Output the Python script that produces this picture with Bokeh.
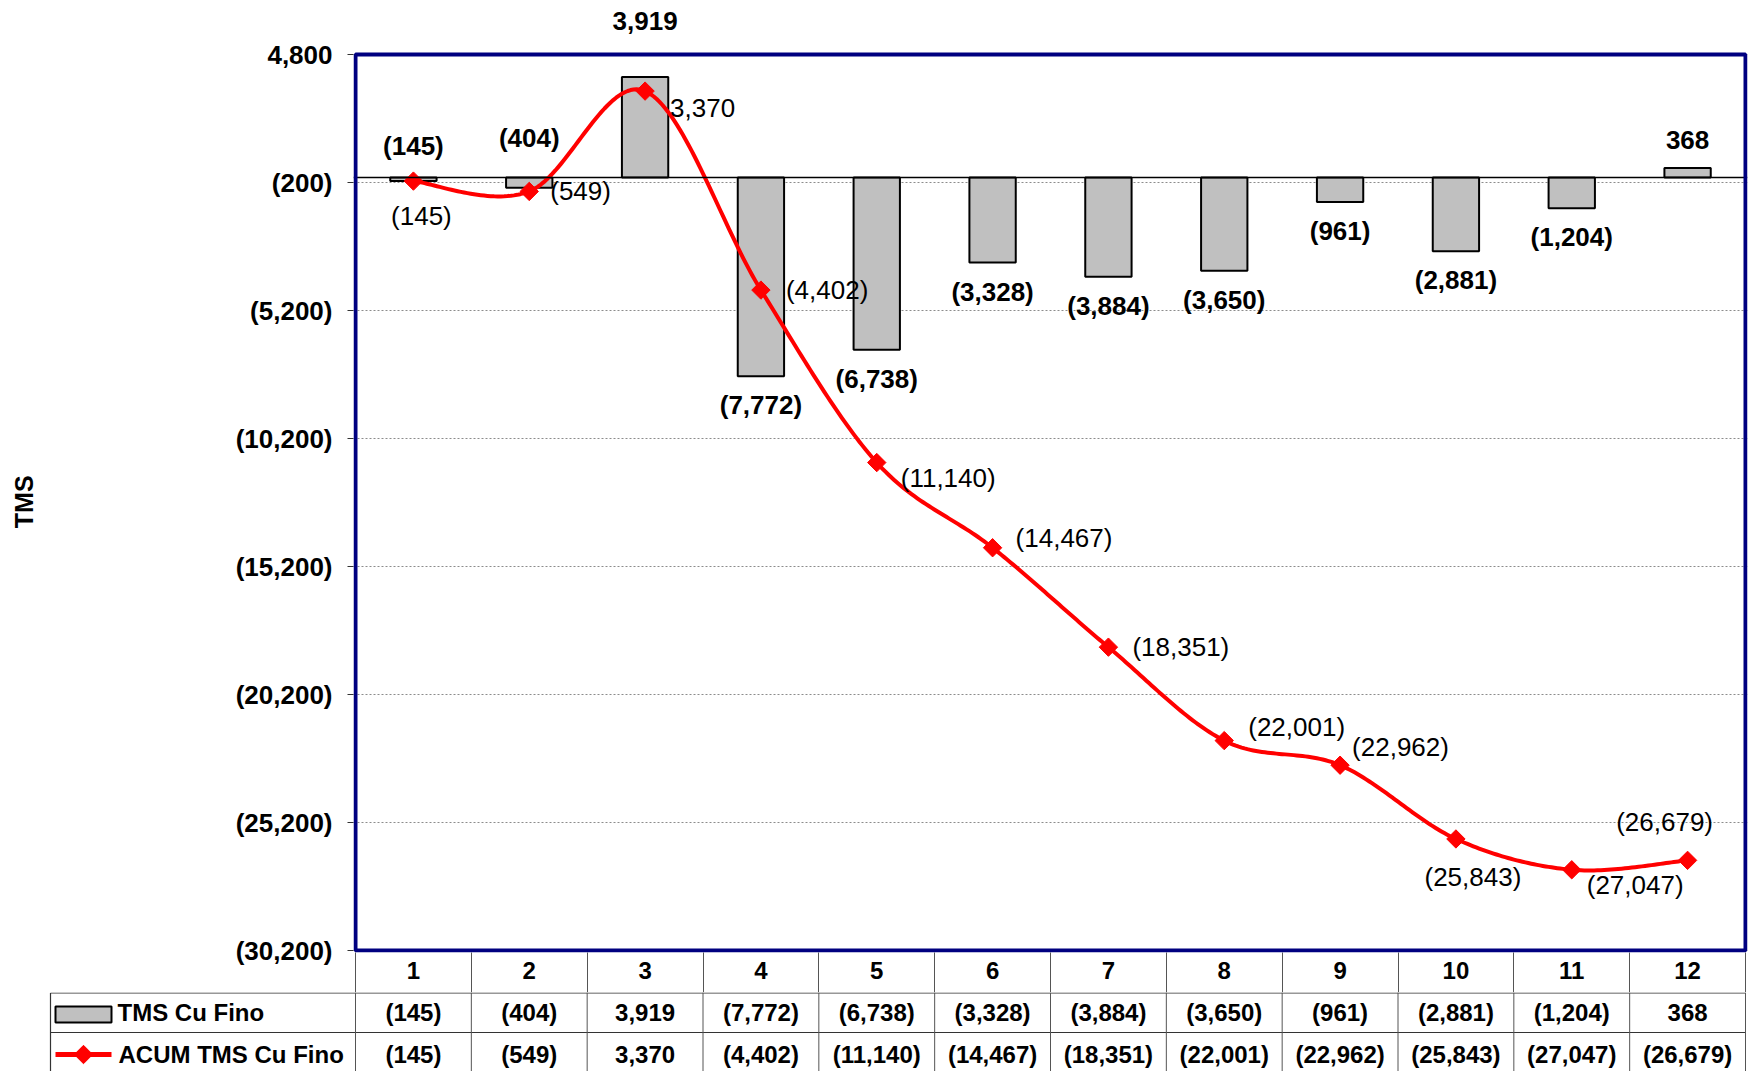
import numpy as np
from bokeh.plotting import figure
from bokeh.models import Range1d, FixedTicker, LabelSet, ColumnDataSource, Span, BoxAnnotation
from bokeh.core.properties import value
from bokeh.embed import file_html
from bokeh.resources import INLINE

# ---------------- data ----------------
months = list(range(1, 13))
month_labels = [str(m) for m in months]
tms_cu_fino = [-145, -404, 3919, -7772, -6738, -3328, -3884, -3650, -961, -2881, -1204, 368]
acum_tms_cu_fino = [-145, -549, 3370, -4402, -11140, -14467, -18351, -22001, -22962, -25843, -27047, -26679]
y_ticks = [4800, -200, -5200, -10200, -15200, -20200, -25200, -30200]
series_names = ["TMS Cu Fino", "ACUM TMS Cu Fino"]
y_title = "TMS"


def fmt(v):
    return f"({abs(v):,})" if v < 0 else f"{v:,}"


FONT = "Liberation Sans"
RED = "#FF0000"
NAVY = "#000080"

# ---------------- layout constants (page pixels) ----------------
PLOT_L, PLOT_R, PLOT_T, PLOT_B = 355, 1745, 54, 950   # plot-area box
Y0, Y1 = -30200, 4800
PXU = (PLOT_R - PLOT_L) / 12.0          # px per category
PYU = (PLOT_B - PLOT_T) / (Y1 - Y0)     # px per TMS unit
FR_L, FR_R, FR_T, FR_B = 353, 1747, 2, 952            # drawing frame (slightly larger)
TABLE_B = 1071
HEADER_H = 992 - FR_B

# label placement styles (pixel offsets, y positive = up)
bar_label_dy = [35, 50, 56, -29, -29, -29, -29, -29, -29, -29, -29, 28]
line_label_place = [  # (align, dx, dy)
    ("center", 8, -35), ("left", 21, 0), ("left", 25, -17), ("left", 25, 0),
    ("left", 24, -15), ("left", 23, 10), ("left", 24, 0), ("left", 24, 14),
    ("left", 12, 18), ("center", 17, -38), ("left", 15, -15), ("center", -23, 38),
]

# ---------------- main chart ----------------
x_rng = Range1d(0.5 - (PLOT_L - FR_L) / PXU, 12.5 + (FR_R - PLOT_R) / PXU)
y_rng = Range1d(Y0 - (FR_B - PLOT_B) / PYU, Y1 + (PLOT_T - FR_T) / PYU)
p = figure(frame_width=FR_R - FR_L, frame_height=FR_B - FR_T,
           min_border_left=FR_L, min_border_right=4, min_border_top=FR_T,
           min_border_bottom=HEADER_H,
           x_range=x_rng, y_range=y_rng,
           output_backend="svg", toolbar_location=None,
           outline_line_color=None,
           background_fill_color="white", border_fill_color="white")

# x axis = header row of the data table
p.xaxis.ticker = FixedTicker(ticks=months, minor_ticks=[m + 0.5 for m in range(0, 13)])
p.xaxis.major_label_overrides = {m: s for m, s in zip(months, month_labels)}
p.xaxis.major_tick_out = 0
p.xaxis.major_tick_in = 0
p.xaxis.minor_tick_in = 0
p.xaxis.minor_tick_out = HEADER_H
p.xaxis.minor_tick_line_color = "#555555"
p.xaxis.minor_tick_line_width = 1
p.xaxis.axis_line_color = None
p.xaxis.major_label_standoff = -(HEADER_H - 9)
p.xaxis.major_label_text_font = FONT
p.xaxis.major_label_text_font_size = "24px"
p.xaxis.major_label_text_font_style = "bold"
p.xaxis.major_label_text_color = "black"

# y axis
p.yaxis.ticker = FixedTicker(ticks=y_ticks)
p.yaxis.bounds = (Y0, Y1)
p.yaxis.major_label_overrides = {t: fmt(t) for t in y_ticks}
p.yaxis.axis_line_color = None
p.yaxis.major_tick_out = 6
p.yaxis.major_tick_in = 0
p.yaxis.major_tick_line_color = "#333333"
p.yaxis.minor_tick_line_color = None
p.yaxis.major_label_standoff = 15
p.yaxis.major_label_text_font = FONT
p.yaxis.major_label_text_font_size = "26px"
p.yaxis.major_label_text_font_style = "bold"
p.yaxis.major_label_text_color = "black"
# trailing no-break spaces centre the rotated title on the plot box rather than the frame
p.yaxis.axis_label = y_title + "\u00a0" * 7
p.yaxis.axis_label_text_font = FONT
p.yaxis.axis_label_text_font_size = "25px"
p.yaxis.axis_label_text_font_style = "bold"
p.yaxis.axis_label_text_color = "black"
p.yaxis.axis_label_standoff = 195

p.xgrid.visible = False
p.ygrid.ticker = FixedTicker(ticks=y_ticks)
p.ygrid.grid_line_color = "#8c8c8c"
p.ygrid.grid_line_dash = "2 2"
p.ygrid.grid_line_width = 1

# bars
p.vbar(x=months, top=tms_cu_fino, bottom=0, width=0.4,
       fill_color="#C0C0C0", line_color="black", line_width=2)
p.add_layout(Span(location=0, dimension="width", line_color="black", line_width=1.5))

# smoothed cumulative line (Excel-like cubic Bezier smoothing in screen space)
pts = np.array([[m * PXU, v * PYU] for m, v in zip(months, acum_tms_cu_fino)])
cx, cy = [], []
n = len(pts)
for i in range(n - 1):
    p0 = pts[i - 1] if i > 0 else pts[i]
    p1, p2 = pts[i], pts[i + 1]
    p3 = pts[i + 2] if i + 2 < n else pts[i + 1]
    c1 = p1 + (p2 - p0) / 6.0
    c2 = p2 - (p3 - p1) / 6.0
    for tt in np.linspace(0, 1, 40, endpoint=(i == n - 2)):
        b = ((1 - tt) ** 3) * p1 + 3 * ((1 - tt) ** 2) * tt * c1 + 3 * (1 - tt) * tt * tt * c2 + tt ** 3 * p2
        cx.append(b[0] / PXU)
        cy.append(b[1] / PYU)
p.line(cx, cy, line_color=RED, line_width=4, line_join="round")
p.scatter(months, acum_tms_cu_fino, marker="square", angle=np.pi / 4, size=13,
          fill_color=RED, line_color=RED)

# plot-area border
p.add_layout(BoxAnnotation(left=0.5, right=12.5, bottom=Y0, top=Y1,
                           fill_alpha=0, fill_color=None,
                           line_color=NAVY, line_width=4, line_alpha=1.0))

# bar data labels
bar_src = ColumnDataSource(dict(x=months, y=tms_cu_fino, text=[fmt(v) for v in tms_cu_fino],
                                dy=bar_label_dy))
p.add_layout(LabelSet(x="x", y="y", text="text", source=bar_src, y_offset="dy",
                      text_align="center", text_baseline="middle",
                      text_font=value(FONT), text_font_size="26px", text_font_style="bold",
                      text_color="black"))

# line data labels
for align in ("left", "center"):
    idx = [i for i, pl in enumerate(line_label_place) if pl[0] == align]
    src = ColumnDataSource(dict(
        x=[months[i] for i in idx],
        y=[acum_tms_cu_fino[i] for i in idx],
        text=[fmt(acum_tms_cu_fino[i]) for i in idx],
        dx=[line_label_place[i][1] for i in idx],
        dy=[line_label_place[i][2] for i in idx]))
    p.add_layout(LabelSet(x="x", y="y", text="text", source=src, x_offset="dx", y_offset="dy",
                          text_align=align, text_baseline="middle",
                          text_font=value(FONT), text_font_size="26px", text_font_style="normal",
                          text_color="black"))

# ---------------- data table ----------------
T_TOP = FR_B + HEADER_H
T_H = TABLE_B - T_TOP
TB_L, TB_R = 48, 1747


def tx(px):
    return 0.5 + (px - PLOT_L) / PXU


def ty(py):
    return T_H - (py - T_TOP)


t = figure(frame_width=TB_R - TB_L, frame_height=T_H, min_border_left=TB_L, min_border_right=4,
           min_border_top=0, min_border_bottom=0,
           x_range=Range1d(tx(TB_L), tx(TB_R)), y_range=Range1d(0, T_H),
           x_axis_location=None, y_axis_location=None,
           output_backend="svg", toolbar_location=None, outline_line_color=None,
           background_fill_color="white", border_fill_color="white")
t.grid.visible = False

LC = "#333333"
t.segment(x0=[tx(50), tx(50)], y0=[T_H - 0.5, ty(1032)], x1=[12.5, 12.5], y1=[T_H - 0.5, ty(1032)],
          line_color=LC, line_width=1.2)
bounds = [m + 0.5 for m in range(0, 13)]
t.segment(x0=bounds, y0=[0] * len(bounds), x1=bounds, y1=[T_H] * len(bounds),
          line_color="#555555", line_width=1)
t.segment(x0=[tx(50)], y0=[0], x1=[tx(50)], y1=[T_H - 0.5], line_color=LC, line_width=1.2)

row_y = [ty(1012), ty(1054)]
t.text(x=months, y=[row_y[0]] * 12, text=[fmt(v) for v in tms_cu_fino],
       text_align="center", text_baseline="middle", text_font=value(FONT),
       text_font_size="24px", text_font_style="bold", text_color="black")
t.text(x=months, y=[row_y[1]] * 12, text=[fmt(v) for v in acum_tms_cu_fino],
       text_align="center", text_baseline="middle", text_font=value(FONT),
       text_font_size="24px", text_font_style="bold", text_color="black")

# legend keys
t.rect(x=[tx(83)], y=[ty(1014)], width=56 / PXU, height=16,
       fill_color="#C0C0C0", line_color="black", line_width=2)
t.segment(x0=[tx(55)], y0=[ty(1054)], x1=[tx(111)], y1=[ty(1054)],
          line_color=RED, line_width=5)
t.scatter([tx(83)], [ty(1054)], marker="square", angle=np.pi / 4, size=13,
          fill_color=RED, line_color=RED)
t.text(x=[tx(117), tx(118)], y=row_y, text=series_names,
       text_align="left", text_baseline="middle", text_font=value(FONT),
       text_font_size="24px", text_font_style="bold", text_color="black")

open("out.html", "w").write(file_html([p, t], INLINE))
